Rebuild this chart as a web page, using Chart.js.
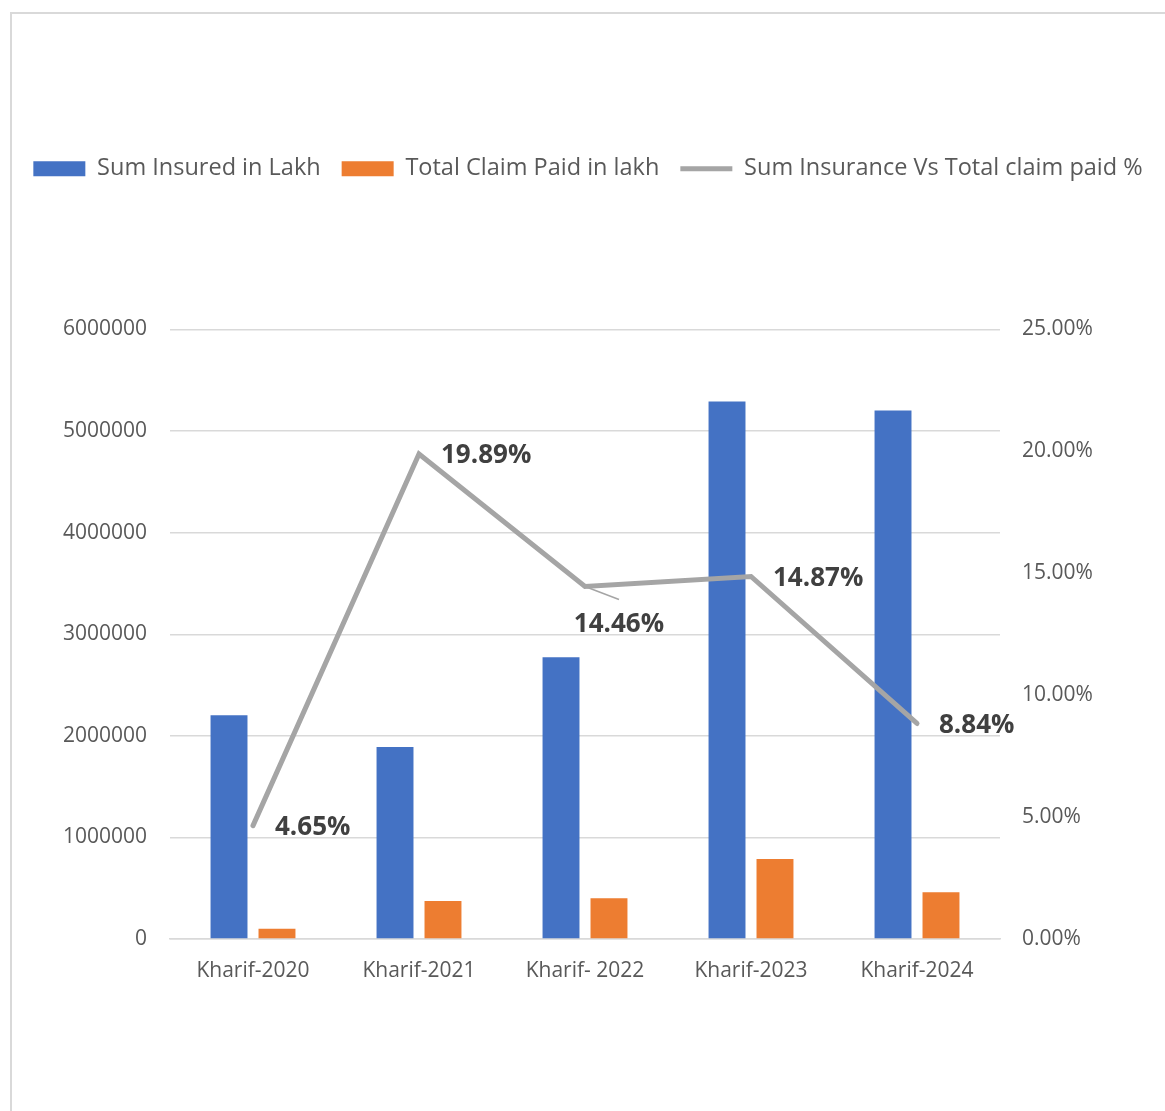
<!DOCTYPE html>
<html lang="en">
<head>
  <meta charset="UTF-8" />
  <title>Sum Insured vs Claim Paid</title>
  <script src="https://cdn.jsdelivr.net/npm/chart.js"></script>
  <style>
    html, body {
      margin: 0;
      padding: 0;
      background: #fff;
      overflow: hidden;
    }
    .frame {
      position: absolute;
      left: 10px;
      top: 12px;
      width: 1300px;
      height: 1200px;
      border: 2px solid #d9d9d9;
      box-sizing: border-box;
    }
    .wrap {
      position: absolute;
      left: 0;
      top: 0;
      width: 1165px;
      height: 1111px;
    }
  </style>
</head>
<body>
  <div class="frame"></div>
  <div class="wrap">
    <canvas id="chart" width="1165" height="1111"></canvas>
  </div>

  <script>
    const seasons = ['Kharif-2020', 'Kharif-2021', 'Kharif- 2022', 'Kharif-2023', 'Kharif-2024'];
    const sumInsured = [2203000, 1889000, 2774000, 5292000, 5203000];
    const claimPaid = [102000, 375000, 401000, 787000, 460000];
    const claimPct = [4.65, 19.89, 14.46, 14.87, 8.84];

    const leftTicks = [0, 1000000, 2000000, 3000000, 4000000, 5000000, 6000000];
    const rightTicks = [0, 5, 10, 15, 20, 25];

    const textGray = '#595959';
    const font = 'Open Sans';

    // value labels on the line; the 2022 one sits below with a leader line
    const pctLabels = {
      id: 'pctLabels',
      afterDatasetsDraw(chart) {
        const meta = chart.getDatasetMeta(2);
        const ctx = chart.ctx;
        ctx.save();
        ctx.font = 'bold 26px "Open Sans"';
        ctx.fillStyle = '#404040';
        ctx.textBaseline = 'middle';
        meta.data.forEach((pt, i) => {
          const txt = claimPct[i].toFixed(2) + '%';
          if (i === 2) {
            ctx.strokeStyle = '#a5a5a5';
            ctx.lineWidth = 1.5;
            ctx.beginPath();
            ctx.moveTo(pt.x, pt.y);
            ctx.lineTo(pt.x + 34, pt.y + 13);
            ctx.stroke();
            ctx.textAlign = 'center';
            ctx.fillText(txt, pt.x + 34, pt.y + 38);
          } else {
            ctx.textAlign = 'left';
            ctx.fillText(txt, pt.x + 22, pt.y + 2);
          }
        });
        ctx.restore();
      }
    };

    new Chart(document.getElementById('chart').getContext('2d'), {
      type: 'bar',
      data: {
        labels: seasons,
        datasets: [
          {
            label: 'Sum Insured in Lakh',
            data: sumInsured,
            backgroundColor: '#4472c4',
            borderWidth: 0,
            pointStyle: 'rect',
            yAxisID: 'y',
            categoryPercentage: 0.578,
            barPercentage: 0.77
          },
          {
            label: 'Total Claim Paid in lakh',
            data: claimPaid,
            backgroundColor: '#ed7d31',
            borderWidth: 0,
            pointStyle: 'rect',
            yAxisID: 'y',
            categoryPercentage: 0.578,
            barPercentage: 0.77
          },
          {
            type: 'line',
            label: 'Sum Insurance Vs Total claim paid %',
            data: claimPct,
            borderColor: '#a5a5a5',
            backgroundColor: '#a5a5a5',
            borderWidth: 5,
            borderCapStyle: 'round',
            pointStyle: 'line',
            pointRadius: 0,
            pointHoverRadius: 0,
            yAxisID: 'y1',
            order: -1
          }
        ]
      },
      options: {
        responsive: false,
        animation: false,
        layout: { padding: { top: 136, left: 11, right: 0, bottom: 0 } },
        plugins: {
          tooltip: { enabled: false },
          legend: {
            position: 'top',
            labels: {
              usePointStyle: true,
              pointStyleWidth: 52,
              boxHeight: 15,
              padding: 21,
              color: textGray,
              font: { family: font, size: 23.5 },
              sort: (a, b) => a.datasetIndex - b.datasetIndex
            }
          }
        },
        scales: {
          xTop: {
            type: 'category',
            position: 'top',
            grid: { display: false, drawTicks: false },
            border: { display: false },
            ticks: { display: false },
            afterFit: s => { s.height = 139; }
          },
          x: {
            grid: { display: false, drawTicks: false },
            border: { display: true, color: '#d9d9d9', width: 1.5 },
            ticks: {
              color: textGray,
              font: { family: font, size: 21 },
              padding: 19,
              maxRotation: 0
            },
            afterFit: s => { s.height = 172; }
          },
          y: {
            position: 'left',
            min: 0,
            max: 6000000,
            afterBuildTicks: s => { s.ticks = leftTicks.map(v => ({ value: v })); },
            grid: { color: '#d9d9d9', lineWidth: 1.5, drawTicks: false },
            border: { display: false },
            ticks: {
              color: textGray,
              font: { family: font, size: 21 },
              padding: 23,
              callback: v => String(v)
            },
            afterFit: s => { s.width = 159; }
          },
          y1: {
            position: 'right',
            min: 0,
            max: 25,
            afterBuildTicks: s => { s.ticks = rightTicks.map(v => ({ value: v })); },
            grid: { display: false, drawTicks: false },
            border: { display: false },
            ticks: {
              color: textGray,
              font: { family: font, size: 21 },
              padding: 22,
              callback: v => v.toFixed(2) + '%'
            },
            afterFit: s => { s.width = 165; }
          }
        }
      },
      plugins: [pctLabels]
    });
  </script>
</body>
</html>
